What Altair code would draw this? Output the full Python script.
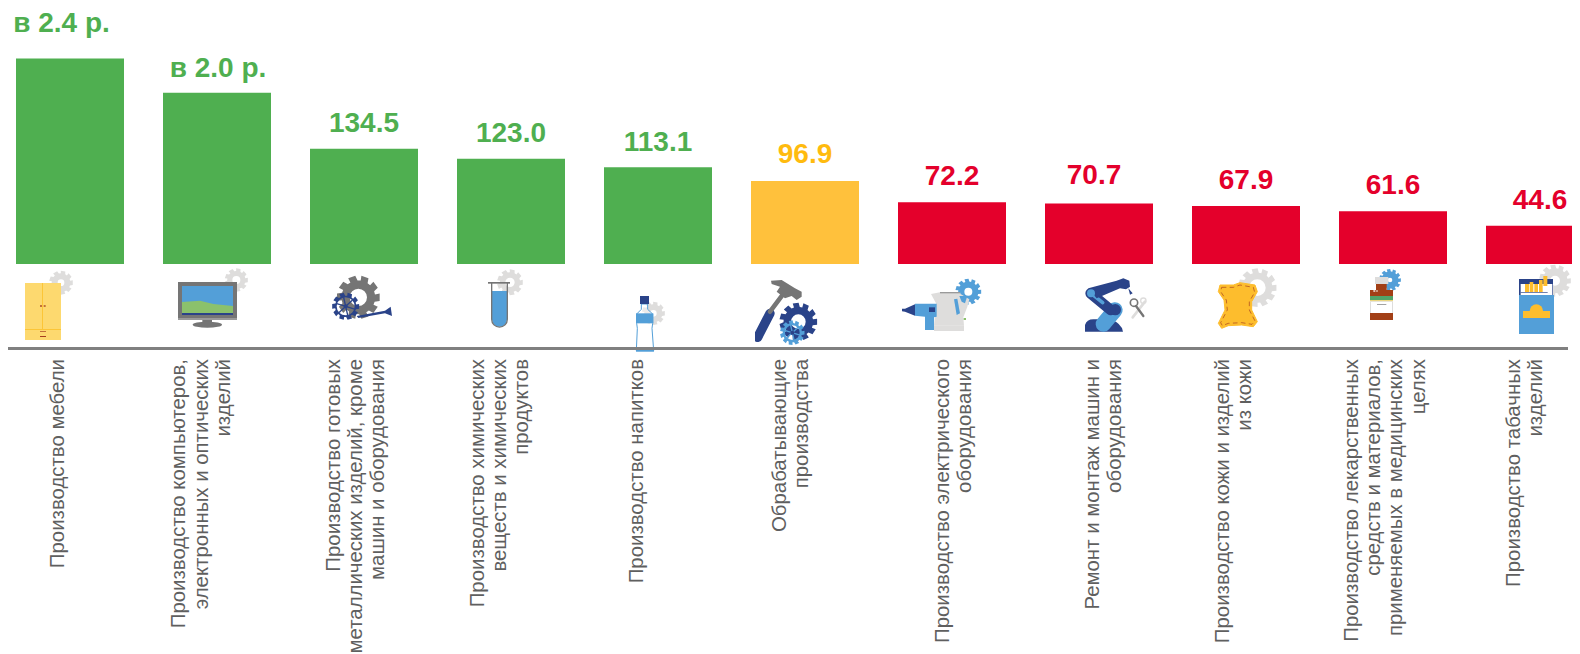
import math
import urllib.parse
import altair as alt
import pandas as pd

categories = [
    "Производство мебели",
    "Производство компьютеров,\nэлектронных и оптических\nизделий",
    "Производство готовых\nметаллических изделий, кроме\nмашин и оборудования",
    "Производство химических\nвеществ и химических\nпродуктов",
    "Производство напитков",
    "Обрабатывающие\nпроизводства",
    "Производство электрического\nоборудования",
    "Ремонт и монтаж машин и\nоборудования",
    "Производство кожи и изделий\nиз кожи",
    "Производство лекарственных\nсредств и материалов,\nприменяемых в медицинских\nцелях",
    "Производство табачных\nизделий",
]
values = [240.0, 200.0, 134.5, 123.0, 113.1, 96.9, 72.2, 70.7, 67.9, 61.6, 44.6]
value_labels = ["в 2.4 р.", "в 2.0 р.", "134.5", "123.0", "113.1", "96.9", "72.2", "70.7", "67.9", "61.6", "44.6"]
status = ["up", "up", "up", "up", "up", "all", "down", "down", "down", "down", "down"]

# layout
STEP = 147.0
X0 = 62.0
W, H = 1564, 646
BASE = 256.0
PX = 0.856
label_shift = [-11.6, -37.6, -30.5, -33.4, -21, -25, -9, -6, -23, -41, -26.5]
value_shift = [-8.5, 1, 0, 0, 0, 0, 0, -5, 0, 0, 0]
value_lift = [27, 16, 16.5, 16.5, 16.5, 18, 17.5, 19, 16.5, 17.5, 16.5]

GREY, LG, NAVY, BLUE, YEL = "#757575", "#DEDDDC", "#2A4389", "#539FD8", "#FDBD2D"


def gear(cx, cy, r, hole, color, teeth=9, extra=""):
    pts = []
    rr = r * 0.78
    for t in range(teeth):
        a = 2 * math.pi * t / teeth
        w = math.pi / teeth
        for ang, rad in ((a - w * .55, r), (a + w * .55, r), (a + w * .85, rr), (a + w * 1.45, rr)):
            pts.append(f"{cx + rad * math.cos(ang):.1f},{cy + rad * math.sin(ang):.1f}")
    d = "M" + " L".join(pts) + "Z"
    d += f" M{cx - hole},{cy} a{hole},{hole} 0 1 0 {2 * hole},0 a{hole},{hole} 0 1 0 {-2 * hole},0Z"
    return f'<path d="{d}" fill="{color}" fill-rule="evenodd"/>' + extra


def rect(x1, y1, x2, y2, c):
    return f'<rect x="{x1}" y="{y1}" width="{x2 - x1}" height="{y2 - y1}" fill="{c}"/>'


def poly(pts, c, extra=""):
    s = " ".join(f"{a},{b}" for a, b in pts)
    return f'<polygon points="{s}" fill="{c}" {extra}/>'


def line(x1, y1, x2, y2, c, w, cap="round"):
    return f'<line x1="{x1}" y1="{y1}" x2="{x2}" y2="{y2}" stroke="{c}" stroke-width="{w}" stroke-linecap="{cap}"/>'


def circ(x, y, r, c, extra=""):
    return f'<circle cx="{x}" cy="{y}" r="{r}" fill="{c}" {extra}/>'


def spokes(x, y, r, c, w=4, n=3):
    out = ""
    for k in range(n):
        a = math.pi * k / n + .3
        out += line(round(x - r * math.cos(a), 1), round(y - r * math.sin(a), 1),
                    round(x + r * math.cos(a), 1), round(y + r * math.sin(a), 1), c, w, "butt")
    return out


# icon parts are drawn in a 3x coordinate system; origin is the pixel corner they were measured from
icons = [
    (0, gear(183, 68, 36, 10, LG) + rect(75, 69, 183, 240, "#FDD96F") + rect(126, 69, 129, 208, "#FCC537")
     + rect(75, 207, 183, 210, "#FCC537") + rect(120, 136, 126, 140, "#A53E1E") + rect(131, 136, 137, 140, "#A53E1E")
     + rect(120, 213, 138, 215, "#A53E1E") + rect(120, 228, 138, 231, "#A53E1E")),
    (0, gear(709, 60, 35, 12, LG) + rect(534, 66, 711, 180, GREY) + rect(534, 174, 711, 180, "#9A9A9A")
     + rect(546, 78, 699, 165, BLUE)
     + poly([(546, 126), (600, 122), (640, 132), (699, 138), (699, 160), (546, 160)], "#8BC16C")
     + rect(546, 159, 699, 165, NAVY) + rect(607, 180, 636, 190, GREY)
     + '<ellipse cx="622" cy="194" rx="44" ry="9" fill="%s"/>' % GREY),
    (0, gear(1075, 112, 65, 26, GREY, 10)
     + poly([(1070, 168), (1155, 152), (1172, 140), (1176, 168), (1155, 160), (1075, 174)], NAVY)
     + gear(1037, 139, 41, 27, NAVY, 10) + spokes(1037, 139, 28, NAVY) + circ(1037, 139, 6, NAVY)),
    (460, gear(150, 67, 39, 14, LG)
     + f'<path d="M96,93 H141 V178 A22,22 0 0 1 96,178Z" fill="{BLUE}"/>'
     + f'<path d="M95,68 V178 A23,23 0 0 0 142,178 V68" fill="none" stroke="{GREY}" stroke-width="4"/>'
     + rect(84, 66, 150, 71, GREY)),
    (460, gear(580, 160, 35, 10, LG)
     + f'<path d="M544,132 L544,148 L530,162 V190 L532,205 L529,272 H581 L576,205 L578,190 V162 L563,148 L563,132Z" fill="white" fill-opacity="0.4" stroke="{BLUE}" stroke-width="3"/>'
     + rect(528, 160, 580, 190, BLUE) + rect(528, 268, 582, 275, BLUE) + rect(540, 108, 567, 132, NAVY)),
    (460, line(893, 232, 930, 160, NAVY, 28) + line(930, 155, 975, 95, GREY, 14)
     + poly([(933, 62), (965, 60), (1005, 85), (1025, 95), (1025, 110), (1010, 120), (995, 108), (975, 115), (950, 95), (960, 80), (935, 72)], GREY)
     + gear(1015, 185, 57, 22, NAVY, 11) + gear(997, 218, 37, 22, BLUE, 11) + spokes(997, 218, 24, BLUE) + circ(997, 218, 6, NAVY)),
    (880, gear(265, 95, 39, 12, BLUE, 11)
     + poly([(153, 102), (180, 97), (240, 97), (242, 102), (268, 118), (262, 140), (250, 172), (252, 197), (162, 197), (168, 130)], LG)
     + rect(180, 96, 240, 100, "#9A9A9A") + rect(162, 197, 252, 213, LG)
     + poly([(222, 118), (232, 116), (240, 160), (230, 165)], BLUE)
     + poly([(238, 108), (262, 108), (255, 130), (245, 125)], BLUE) + rect(251, 174, 258, 180, "#8BC16C")
     + poly([(60, 146), (75, 146), (105, 133), (105, 167), (75, 155), (60, 153)], NAVY)
     + poly([(105, 131), (170, 131), (170, 170), (162, 172), (162, 210), (135, 210), (135, 170), (105, 167)], BLUE)
     + rect(147, 142, 165, 156, NAVY)),
    (880, f'<path d="M615,215 V195 Q620,178 640,178 L690,178 Q725,190 729,215Z" fill="{NAVY}"/>'
     + line(670, 192, 705, 150, BLUE, 46) + circ(706, 149, 17, NAVY)
     + line(632, 100, 692, 150, NAVY, 32) + line(633, 100, 668, 128, BLUE, 11)
     + poly([(625, 85), (710, 62), (730, 55), (748, 62), (750, 80), (738, 88), (720, 85), (650, 115)], NAVY)
     + poly([(745, 85), (758, 100), (750, 104)], NAVY) + circ(633, 100, 12, BLUE)
     + line(758, 172, 795, 125, LG, 8) + circ(790, 122, 8, "none", f'stroke="{LG}" stroke-width="4"')
     + line(768, 138, 790, 168, GREY, 7) + circ(762, 128, 11, "none", f'stroke="{GREY}" stroke-width="5"')),
    (880, gear(1132, 83, 58, 25, LG, 11)
     + poly([(1020, 75), (1060, 75), (1080, 68), (1125, 75), (1132, 95), (1115, 125), (1115, 150), (1132, 185), (1120, 200), (1085, 195), (1045, 197), (1025, 205), (1015, 190), (1035, 150), (1032, 120), (1015, 95)], YEL, 'stroke="#FDBD2D" stroke-width="3" stroke-linejoin="round"')
     + poly([(1025, 82), (1060, 82), (1080, 75), (1120, 82), (1124, 97), (1108, 125), (1108, 150), (1125, 183), (1116, 193), (1085, 188), (1045, 190), (1027, 197), (1022, 188), (1042, 150), (1039, 120), (1022, 95)], "none", 'stroke="#A53E1E" stroke-width="2" stroke-dasharray="14 10"')),
    (1280, gear(330, 60, 33, 7, BLUE, 11) + rect(285, 51, 325, 72, LG) + rect(288, 72, 320, 90, "#A23F16")
     + rect(270, 90, 339, 108, "#A23F16") + rect(280, 91, 286, 95, "white") + rect(289, 91, 293, 95, "white")
     + rect(270, 108, 339, 120, "#52A468") + rect(270, 120, 339, 124, "#EBD780")
     + rect(270, 124, 339, 159, LG) + rect(273, 126, 336, 159, "white") + rect(291, 132, 319, 134, GREY)
     + rect(270, 159, 339, 180, "#A23F16")),
    (1280, gear(825, 62, 48, 15, LG, 11) + rect(717, 57, 819, 105, NAVY) + rect(722, 72, 817, 105, "white")
     + rect(735, 72, 747, 96, YEL) + rect(749, 66, 760, 96, YEL) + rect(763, 72, 774, 96, YEL)
     + rect(777, 60, 788, 96, YEL) + rect(790, 48, 802, 78, YEL) + rect(722, 96, 803, 98, NAVY)
     + rect(717, 105, 822, 222, BLUE) + rect(729, 153, 810, 174, YEL)
     + f'<path d="M749,153 A20,20 0 0 1 789,153Z" fill="{YEL}"/>'),
]


def icon_url(i):
    ox, body = icons[i]
    cx = 70 + STEP * i
    x0 = (cx - 50 - ox) * 3
    svg = (f'<svg xmlns="http://www.w3.org/2000/svg" width="100" height="100" '
           f'viewBox="{x0} -15 300 300">{body}</svg>')
    return "data:image/svg+xml," + urllib.parse.quote(svg)


df = pd.DataFrame({
    "i": range(len(values)),
    "cat": categories,
    "val": values,
    "lab": value_labels,
    "status": status,
})
df["x_lab"] = df["i"] + pd.Series(label_shift) / STEP
df["x_val"] = df["i"] + pd.Series(value_shift) / STEP
df["y_val"] = df["val"] + pd.Series(value_lift) / PX
df["url"] = [icon_url(i) for i in range(len(values))]

xs = alt.Scale(domain=[-X0 / STEP, (W - X0) / STEP], padding=0, nice=False, zero=False)
ys = alt.Scale(domain=[(BASE - H) / PX, BASE / PX], nice=False, zero=False)
base = alt.Chart(df)

bars = base.mark_bar(width=108, clip=True).encode(
    x=alt.X("i:Q", scale=xs, axis=None),
    y=alt.Y("val:Q", scale=ys, axis=None),
    y2=alt.datum(0),
    color=alt.Color("status:N", legend=None,
                    scale=alt.Scale(domain=["up", "all", "down"], range=["#4FAF50", "#FFC13C", "#E4002B"])),
)
vals = alt.Chart(df).mark_text(font="Liberation Sans", fontWeight="bold", fontSize=28,
                               baseline="alphabetic", align="center").encode(
    x=alt.X("x_val:Q", scale=xs, axis=None),
    y=alt.Y("y_val:Q", scale=ys, axis=None),
    text="lab:N",
    color=alt.Color("status:N", legend=None,
                    scale=alt.Scale(domain=["up", "all", "down"], range=["#4FAF50", "#FFBB0F", "#E4002B"])),
)
imgs = base.mark_image(width=100, height=100, align="center", baseline="middle").encode(
    x=alt.X("i:Q", scale=xs, axis=None),
    y=alt.value(297),
    url="url:N",
)
rule = base.transform_filter("datum.i == 0").mark_rule(color="#808080", strokeWidth=3).encode(
    x=alt.value(0), x2=alt.value(1560), y=alt.value(340.5),
)
labels = base.mark_text(font="Liberation Sans", fontSize=20.4, color="#5F5F5F", align="right",
                        baseline="middle", angle=270, lineBreak="\n", lineHeight=22.2).encode(
    x=alt.X("x_lab:Q", scale=xs, axis=None),
    y=alt.value(351),
    text="cat:N",
)

chart = alt.layer(imgs, rule, bars, vals, labels).resolve_scale(color="independent").properties(
    width=W, height=H, padding=0, autosize=alt.AutoSizeParams(type="none"),
).configure_view(stroke=None)

chart.save("out.html", embed_options={"renderer": "svg", "actions": False})
